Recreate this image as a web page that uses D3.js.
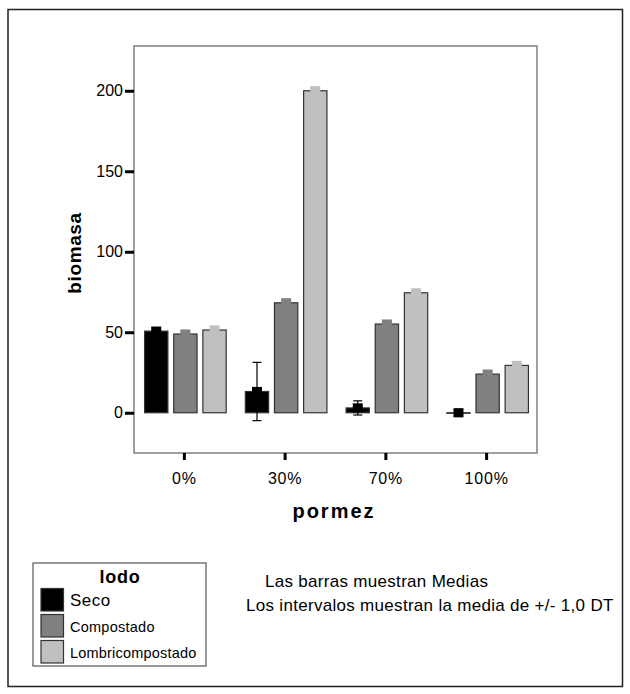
<!DOCTYPE html>
<html><head><meta charset="utf-8">
<script src="https://cdn.jsdelivr.net/npm/d3@7/dist/d3.min.js"></script>
<style>body{margin:0;background:#fff}svg{display:block;font-family:"Liberation Sans",Arial,sans-serif}</style>
</head><body>
<svg id="c" width="630" height="694"></svg>
<script>
const categories = ["0%", "30%", "70%", "100%"];
const seriesNames = ["Seco", "Compostado", "Lombricompostado"];
const secoMean = [50.7, 13.2, 3.0, 0.0];
const secoSD = [2.0, 18.1, 4.4, 2.0];
const compostadoMean = [48.9, 68.3, 55.1, 24.0];
const compostadoSD = [1.5, 1.5, 1.5, 1.5];
const lombriMean = [51.4, 200.0, 74.5, 29.4];
const lombriSD = [1.5, 1.5, 1.5, 1.5];
const yTicks = [0, 50, 100, 150, 200];
const colors = ["#000000", "#808080", "#c0c0c0"];

const means = [secoMean, compostadoMean, lombriMean];
const sds = [secoSD, compostadoSD, lombriSD];
const data = [];
categories.forEach((c, i) => seriesNames.forEach((s, j) => data.push({cat: c, ser: s, j, mean: means[j][i], sd: sds[j][i]})));

const svg = d3.select("#c");
const L = 134, R = 537, T = 46, B = 453;
const y = d3.scaleLinear().domain([-25, 227.8]).range([B, T]);
const x0 = d3.scaleBand().domain(categories).range([L, R]).padding(0);
const bw = x0.bandwidth();
const x1 = d3.scaleBand().domain(seriesNames).range([bw * 0.105, bw * 0.915]).paddingInner(0.2);

// outer border
svg.append("rect").attr("x", 8).attr("y", 9.5).attr("width", 614.5).attr("height", 677)
  .attr("fill", "none").attr("stroke", "#222").attr("stroke-width", 1.5);

// plot frame
svg.append("rect").attr("x", L).attr("y", T).attr("width", R - L).attr("height", B - T)
  .attr("fill", "none").attr("stroke", "#808080").attr("stroke-width", 1.5);

// y axis ticks
const yAxis = d3.axisLeft(y).tickValues(yTicks).tickSize(9).tickPadding(2).tickFormat(d3.format("d"));
const gy = svg.append("g").attr("transform", `translate(${L},0)`).call(yAxis);
gy.select(".domain").remove();
gy.selectAll(".tick line").attr("stroke", "#000").attr("stroke-width", 3);
gy.selectAll(".tick text").attr("font-size", 16).attr("fill", "#000").style("font-family", '"Liberation Sans",Arial,sans-serif');

// x axis ticks
const xAxis = d3.axisBottom(x0).tickSize(7).tickPadding(13);
const gx = svg.append("g").attr("transform", `translate(0,${B})`).call(xAxis);
gx.select(".domain").remove();
gx.selectAll(".tick line").attr("stroke", "#000").attr("stroke-width", 3);
gx.selectAll(".tick text").attr("font-size", 16).attr("fill", "#000").style("font-family", '"Liberation Sans",Arial,sans-serif').attr("letter-spacing", 0.8);

// bars
const g = svg.append("g");
const bars = g.selectAll("g.bar").data(data).enter().append("g").attr("class", "bar")
  .attr("transform", d => `translate(${x0(d.cat) + x1(d.ser)},0)`);
const w = x1.bandwidth();
bars.append("rect")
  .attr("x", 0).attr("width", w)
  .attr("y", d => Math.min(y(d.mean), y(0)))
  .attr("height", d => Math.max(0.5, Math.abs(y(d.mean) - y(0))))
  .attr("fill", d => colors[d.j]).attr("stroke", "#333").attr("stroke-width", 1.2);

// error bars
bars.each(function(d) {
  const s = d3.select(this);
  const cx = w / 2;
  const hi = y(d.mean + d.sd), lo = y(d.mean - d.sd);
  s.append("line").attr("x1", cx).attr("x2", cx).attr("y1", hi).attr("y2", lo).attr("stroke", "#000").attr("stroke-width", 1.2);
  s.append("line").attr("x1", cx - 4.5).attr("x2", cx + 4.5).attr("y1", hi).attr("y2", hi).attr("stroke", "#000").attr("stroke-width", 1.2);
  s.append("line").attr("x1", cx - 4.5).attr("x2", cx + 4.5).attr("y1", lo).attr("y2", lo).attr("stroke", "#000").attr("stroke-width", 1.2);
  // mean marker
  s.append("rect").attr("x", cx - 5).attr("y", y(d.mean) - 4.6).attr("width", 10).attr("height", 9.2)
    .attr("fill", colors[d.j]);
});

// axis titles
svg.append("text").attr("transform", `translate(81,253) rotate(-90)`).attr("text-anchor", "middle")
  .attr("font-size", 19).attr("font-weight", "bold").attr("letter-spacing", 0.6).text("biomasa");
svg.append("text").attr("x", 334).attr("y", 518).attr("text-anchor", "middle")
  .attr("font-size", 20).attr("font-weight", "bold").attr("letter-spacing", 2).text("pormez");

// legend
svg.append("rect").attr("x", 33).attr("y", 563).attr("width", 173).attr("height", 103)
  .attr("fill", "none").attr("stroke", "#555").attr("stroke-width", 1.2);
svg.append("text").attr("x", 120).attr("y", 583).attr("text-anchor", "middle")
  .attr("font-size", 18).attr("font-weight", "bold").attr("letter-spacing", 0.8).text("lodo");
const legY = [588.5, 614.5, 640.5];
const legFS = [17, 14.5, 14.5];
const legLS = [0.5, 0.25, 0.2];
seriesNames.forEach((s, j) => {
  svg.append("rect").attr("x", 41).attr("y", legY[j]).attr("width", 22.5).attr("height", 22.5)
    .attr("fill", colors[j]).attr("stroke", "#333").attr("stroke-width", 1.2);
  svg.append("text").attr("x", 70).attr("y", legY[j] + 17).attr("font-size", legFS[j]).attr("letter-spacing", legLS[j]).text(s);
});

// footnotes
svg.append("text").attr("x", 265).attr("y", 587).attr("font-size", 17).attr("letter-spacing", 0.3).text("Las barras muestran Medias");
svg.append("text").attr("x", 246).attr("y", 611).attr("font-size", 17).attr("letter-spacing", 0.3).text("Los intervalos muestran la media de +/- 1,0 DT");
</script>
</body></html>
